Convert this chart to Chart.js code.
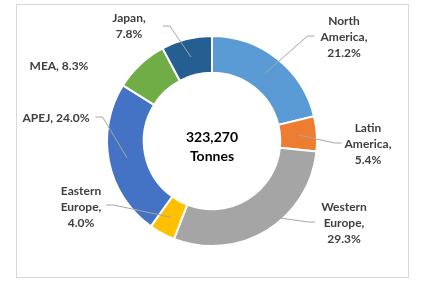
<!DOCTYPE html>
<html>
<head>
<meta charset="utf-8">
<script src="https://cdn.jsdelivr.net/npm/chart.js@4"></script>
<style>
  html, body { margin: 0; padding: 0; background: #fff; }
  #wrap { position: relative; width: 435px; height: 288px; }
  #frame {
    position: absolute; left: 16px; top: 4px; width: 393px; height: 274px;
    box-sizing: border-box; border: 1px solid #d9d9d9;
  }
  #chart { position: absolute; left: 0; top: 0; }
</style>
</head>
<body>
<div id="wrap">
  <div id="frame"></div>
  <canvas id="chart" width="435" height="288"></canvas>
</div>
<script>
// Data
const regions = ['North America', 'Latin America', 'Western Europe', 'Eastern Europe', 'APEJ', 'MEA', 'Japan'];
const shares = [21.2, 5.4, 29.3, 4.0, 24.0, 8.3, 7.8];
const totalText = ['323,270', 'Tonnes'];

// Styles
const colors = ['#5B9BD5', '#ED7D31', '#A5A5A5', '#FFC000', '#4472C4', '#70AD47', '#255E91'];
const wrapLabel = [true, true, true, true, false, false, true];
// label block centre, relative to the doughnut centre
const labelOffset = [[132, -104], [156, 3], [132, 82], [-131, 66], [-156, -23], [-153, -75], [-83, -115]];
// gap between label edge and leader end (null = no leader), and vertical tweak
const leaderGap = [6, 3, 6, 5, 6, null, 17];
const leaderDy = [-1, -1, -1, -2, -1, 0, 0];

const FONT = 'bold 12px Lato, "Liberation Sans", sans-serif';

function labelLines(i) {
    const pct = shares[i].toFixed(1) + '%';
    if (!wrapLabel[i]) return [regions[i] + ', ' + pct];
    const words = regions[i].split(' ');
    words[words.length - 1] += ',';
    return words.concat([pct]);
}

const labelPlugin = {
    id: 'excelLabels',
    afterDatasetsDraw(chart) {
        const ctx = chart.ctx;
        const arcs = chart.getDatasetMeta(0).data;
        ctx.save();
        ctx.font = FONT;
        ctx.textAlign = 'center';
        ctx.textBaseline = 'middle';
        arcs.forEach((arc, i) => {
            const p = arc.getProps(['x', 'y', 'startAngle', 'endAngle', 'innerRadius', 'outerRadius'], true);
            const mid = (p.startAngle + p.endAngle) / 2;
            const r = (p.innerRadius + p.outerRadius) / 2;
            const sx = p.x + Math.cos(mid) * r;
            const sy = p.y + Math.sin(mid) * r;
            const lx = p.x + labelOffset[i][0];
            const ly = p.y + labelOffset[i][1];
            const lines = labelLines(i);
            const lh = 16;
            const w = Math.max(...lines.map(t => ctx.measureText(t).width));

            if (leaderGap[i] !== null) {
                const side = labelOffset[i][0] > 0 ? 1 : -1;
                const ex = lx - side * (w / 2 + leaderGap[i]);
                const ey = ly + leaderDy[i];
                const bx = ex - side * 7;
                ctx.strokeStyle = '#a6a6a6';
                ctx.lineWidth = 1;
                ctx.beginPath();
                ctx.moveTo(sx, sy);
                ctx.lineTo(bx, ey);
                ctx.lineTo(ex, ey);
                ctx.stroke();
            }

            ctx.fillStyle = '#404040';
            const y0 = ly - (lines.length - 1) * lh / 2;
            lines.forEach((t, k) => ctx.fillText(t, lx, y0 + k * lh));
        });

        // centre total
        const c = arcs[0];
        ctx.font = 'bold 14px Lato, "Liberation Sans", sans-serif';
        ctx.fillStyle = '#000';
        ctx.fillText(totalText[0], c.x, c.y - 4);
        ctx.fillText(totalText[1], c.x, c.y + 15);
        ctx.restore();
    }
};

new Chart(document.getElementById('chart').getContext('2d'), {
    type: 'doughnut',
    data: {
        labels: regions,
        datasets: [{
            data: shares,
            backgroundColor: colors,
            borderColor: '#ffffff',
            borderWidth: 2,
            hoverOffset: 0
        }]
    },
    options: {
        responsive: false,
        animation: false,
        cutout: '65%',
        layout: { padding: { top: 35, bottom: 41, left: 0, right: 11 } },
        plugins: {
            legend: { display: false },
            tooltip: { enabled: false }
        }
    },
    plugins: [labelPlugin]
});
</script>
</body>
</html>
